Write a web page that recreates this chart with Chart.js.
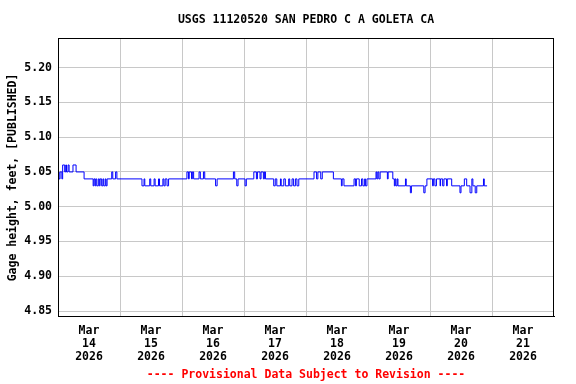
<!DOCTYPE html>
<html>
<head>
<meta charset="utf-8">
<script src="https://cdn.jsdelivr.net/npm/chart.js@4/dist/chart.umd.min.js"></script>
<style>
  html, body { margin: 0; padding: 0; background: #fff; }
  #wrap { width: 576px; height: 384px; }
</style>
</head>
<body>
<div id="wrap"><canvas id="gageChart" width="576" height="384"></canvas></div>
<script>
    // Gage height (feet), as [hour since Mar 14 00:00, level] change points;
    // each level holds until the next change point
    const mar14 = [[0, 5.05], [0.4, 5.04], [0.8, 5.05], [1.5, 5.04], [1.8, 5.06], [2.6, 5.05], [3.0, 5.06],
                   [3.3, 5.05], [3.9, 5.06], [4.3, 5.05], [5.8, 5.06], [7.0, 5.05], [10.1, 5.04],
                   [13.6, 5.03], [13.9, 5.04], [14.3, 5.03], [14.6, 5.04], [15.0, 5.03], [15.6, 5.04],
                   [16.0, 5.03], [16.3, 5.04], [16.9, 5.03], [17.4, 5.04], [17.7, 5.03], [18.3, 5.04],
                   [18.6, 5.03], [19.0, 5.04], [20.8, 5.05], [21.2, 5.04], [22.3, 5.05], [22.8, 5.04]];
    const mar15 = [[32.5, 5.03], [33.3, 5.04], [33.6, 5.03], [35.5, 5.04], [35.9, 5.03], [37.2, 5.04],
                   [37.6, 5.03], [38.9, 5.04], [39.3, 5.03], [40.6, 5.04], [41.0, 5.03], [41.5, 5.04],
                   [42.2, 5.03], [42.8, 5.04]];
    const mar16 = [[49.9, 5.05], [50.5, 5.04], [50.8, 5.05], [51.7, 5.04], [52.0, 5.05], [52.5, 5.04],
                   [54.6, 5.05], [55.1, 5.04], [56.3, 5.05], [56.8, 5.04], [61.0, 5.03], [61.6, 5.04],
                   [67.9, 5.05], [68.4, 5.04], [69.2, 5.03], [69.7, 5.04]];
    const mar17 = [[72.4, 5.03], [72.9, 5.04], [75.8, 5.05], [76.8, 5.04], [77.2, 5.05], [78.2, 5.04],
                   [78.6, 5.05], [79.5, 5.04], [79.9, 5.05], [80.3, 5.04], [83.5, 5.03], [84.1, 5.04],
                   [84.7, 5.03], [86.1, 5.04], [86.4, 5.03], [87.4, 5.04], [88.0, 5.03], [89.3, 5.04],
                   [89.7, 5.03], [90.6, 5.04], [91.2, 5.03], [91.9, 5.04], [92.5, 5.03], [93.2, 5.04]];
    const mar18 = [[99.1, 5.05], [100.1, 5.04], [100.6, 5.05], [101.7, 5.04], [102.3, 5.05], [106.6, 5.04],
                   [109.7, 5.03], [110.0, 5.04], [110.7, 5.03], [114.6, 5.04], [115.2, 5.03], [115.5, 5.04],
                   [116.6, 5.03], [117.5, 5.04], [118.0, 5.03], [118.7, 5.04], [119.0, 5.03], [119.6, 5.04]];
    const mar19 = [[123.1, 5.05], [123.4, 5.04], [123.8, 5.05], [124.2, 5.04], [124.7, 5.05], [127.5, 5.04],
                   [127.8, 5.05], [129.6, 5.04], [130.2, 5.03], [130.5, 5.04], [130.8, 5.03], [131.3, 5.04],
                   [131.6, 5.03], [134.5, 5.04], [134.8, 5.03], [136.4, 5.02], [136.8, 5.03], [141.6, 5.02],
                   [142.1, 5.03], [142.8, 5.04]];
    const mar20 = [[145.0, 5.03], [145.3, 5.04], [145.9, 5.03], [146.5, 5.04], [147.9, 5.03], [148.1, 5.04],
                   [148.9, 5.03], [149.4, 5.04], [150.4, 5.03], [150.7, 5.04], [152.4, 5.03], [155.6, 5.02],
                   [156.0, 5.03], [157.3, 5.04], [158.2, 5.03], [159.5, 5.02], [160.2, 5.04], [160.6, 5.03],
                   [161.5, 5.02], [162.1, 5.03], [164.7, 5.04], [165.0, 5.03], [166.1, 5.03]];

    const dayLabels = [
        ['Mar', '14', '2026'], ['Mar', '15', '2026'], ['Mar', '16', '2026'], ['Mar', '17', '2026'],
        ['Mar', '18', '2026'], ['Mar', '19', '2026'], ['Mar', '20', '2026'], ['Mar', '21', '2026']
    ];
    const yTicks = [4.85, 4.90, 4.95, 5.00, 5.05, 5.10, 5.15, 5.20];

    const points = [].concat(mar14, mar15, mar16, mar17, mar18, mar19, mar20)
        .map(p => ({ x: p[0], y: p[1] }));

    const monoFont = { family: '"DejaVu Sans Mono", "Liberation Mono", monospace', size: 11.5, weight: 'bold' };

    // Box round the plot area
    const frame = {
        id: 'frame',
        afterDraw(chart) {
            const a = chart.chartArea, ctx = chart.ctx;
            ctx.save();
            ctx.strokeStyle = '#000';
            ctx.lineWidth = 1;
            ctx.strokeRect(Math.round(a.left) + 0.5, Math.round(a.top) + 0.5,
                           Math.round(a.right - a.left) - 1, Math.round(a.bottom - a.top));
            ctx.restore();
        }
    };

    const config = {
        type: 'line',
        data: {
            datasets: [{
                data: points,
                borderColor: '#0000ff',
                borderWidth: 1,
                pointRadius: 0,
                stepped: 'before',
                fill: false
            }]
        },
        options: {
            responsive: false,
            animation: false,
            layout: { padding: { left: 0, right: 22, top: 0, bottom: 0 } },
            plugins: {
                legend: { display: false },
                tooltip: { enabled: false },
                title: {
                    display: true,
                    text: 'USGS 11120520 SAN PEDRO C A GOLETA CA',
                    color: '#000',
                    font: monoFont,
                    fullSize: false,
                    padding: { top: 13, bottom: 11.6 }
                },
                subtitle: {
                    display: true,
                    position: 'bottom',
                    text: '---- Provisional Data Subject to Revision ----',
                    color: '#ff0000',
                    font: monoFont,
                    fullSize: false,
                    padding: { top: 2, bottom: 1.6 }
                }
            },
            scales: {
                x: {
                    type: 'linear',
                    min: 0,
                    max: 192,
                    afterBuildTicks: s => {
                        const t = [];
                        for (let v = 0; v <= 192; v += 12) t.push({ value: v });
                        s.ticks = t;
                    },
                    afterFit: s => { s.height = 50; },
                    ticks: {
                        maxRotation: 0,
                        autoSkip: false,
                        color: '#000',
                        font: Object.assign({}, monoFont, { lineHeight: 13 / 11.5 }),
                        padding: 8,
                        callback: v => (v % 24 === 12 ? dayLabels[(v - 12) / 24] : '')
                    },
                    grid: {
                        drawTicks: false,
                        color: c => (c.tick && c.tick.value % 24 === 0 && c.tick.value > 0 && c.tick.value < 192)
                            ? '#c8c8c8' : 'rgba(0,0,0,0)'
                    },
                    border: { color: '#000' }
                },
                y: {
                    min: 4.842,
                    max: 5.242,
                    afterBuildTicks: s => { s.ticks = yTicks.map(v => ({ value: v })); },
                    afterFit: s => { s.width = 58; },
                    ticks: {
                        color: '#000',
                        font: monoFont,
                        padding: 6,
                        callback: v => Number(v).toFixed(2)
                    },
                    grid: { drawTicks: false, color: '#c8c8c8' },
                    border: { color: '#000' },
                    title: {
                        display: true,
                        text: 'Gage height, feet, [PUBLISHED]',
                        color: '#000',
                        font: monoFont,
                        padding: { top: 6, bottom: 0 }
                    }
                }
            }
        },
        plugins: [frame]
    };

    const gageChart = new Chart(document.getElementById('gageChart'), config);
</script>
</body>
</html>
